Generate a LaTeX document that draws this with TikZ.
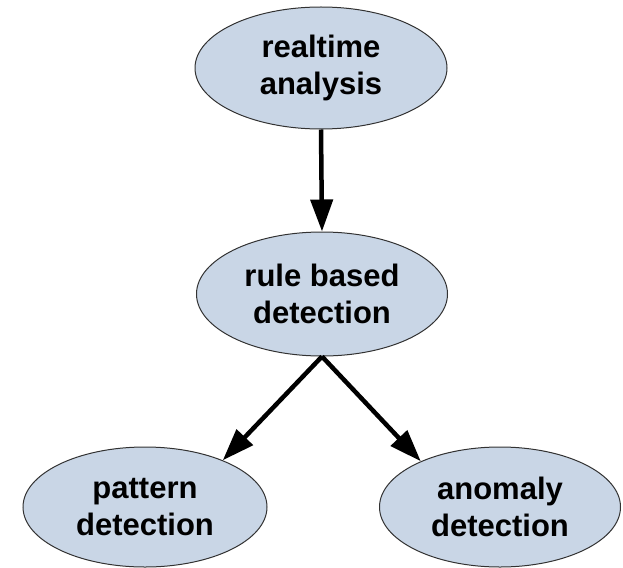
\documentclass[tikz,border=0pt]{standalone}
\usepackage{fontspec}
\setmainfont{Liberation Sans}
\usetikzlibrary{arrows.meta,shapes.geometric}
\definecolor{nodefill}{RGB}{201,214,230}
\definecolor{nodeline}{RGB}{50,50,50}
\begin{document}
\begin{tikzpicture}[x=1pt,y=-1pt,
  bubble/.style={ellipse, draw=nodeline, line width=1pt, fill=nodefill, inner sep=0pt,
    align=center, font=\fontsize{31}{37}\selectfont\bfseries},
  flow/.style={line width=4.5pt, -{Triangle[length=32pt,width=22pt]}, shorten >=0pt}]
\useasboundingbox (0,0) rectangle (623,567);
\node[bubble, minimum width=252pt, minimum height=122pt] (rt) at (321,68) {realtime\\analysis};
\node[bubble, minimum width=251pt, minimum height=124pt] (rb) at (322,294) {rule based\\detection};
\node[bubble, minimum width=244pt, minimum height=120pt] (pd) at (145,507) {pattern\\detection};
\node[bubble, minimum width=241pt, minimum height=120pt] (ad) at (500,507) {anomaly\\detection};
\draw[flow] (rt.south) -- (rb.north);
\draw[flow] (rb.south) -- (pd.31);
\draw[flow] (rb.south) -- (ad.150);
\end{tikzpicture}
\end{document}
